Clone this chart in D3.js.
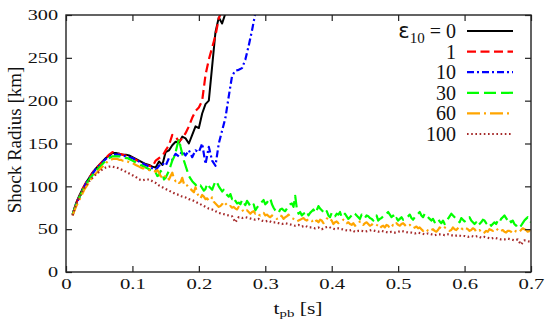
<!DOCTYPE html>
<html><head><meta charset="utf-8">
<script src="https://cdn.jsdelivr.net/npm/d3@7"></script>
<style>body{margin:0;background:#fff}svg{display:block}</style>
</head><body>
<svg id="chart" width="556" height="334"></svg>
<script>
// sampling of the simulation output: first time (s) and output interval (s) per series
const T0 = 0.01;
const sampleStep = [0.005, 0.005, 0.005, 0.0025, 0.0025, 0.005];
const xTicks = [0, 0.1, 0.2, 0.3, 0.4, 0.5, 0.6, 0.7];
const yTicks = [0, 50, 100, 150, 200, 250, 300];
const legendLabels = ["0", "1", "10", "30", "60", "100"];

const r_eps0 = [67,80,89,97,104,110,116,121,125,129,133,136,139,139,138,137,137,136,134,132,130,128,126,125,123,122,129,125,140,142,148,152,151,158,156,150,160,170,168,185,196,200,240,280,297,290,302];
const r_eps1 = [67,80,88,97,104,110,116,121,125,129,133,137,140,139,138,137,136,135,133,131,129,127,125,124,123,130,133,135,142,148,160,158,152,156,162,170,180,188,192,200,230,248,262,276,296,306];
const r_eps10 = [67,79,87,96,103,109,115,120,124,128,132,135,137,137,137,136,135,134,133,131,129,127,125,123,121,119,124,127,124,133,131,138,135,141,136,142,134,142,140,150,126,146,130,124,150,165,180,205,229,235,236,238,248,264,282,302];
const r_eps30 = [67,73,78,83,87,91,95,99,102,105,108,111,113,116,118,120,122,124,126,128,130,132,133,134,135,135,135,135,135,135,134,134,133,133,132,131,130,129,128,127,126,125,124,123,122,121,120,119,118,117,116,
  112,113,118,116,108,110,114,118,124,130,134,140,148,155,146,138,130,124,118,112,
  109,106,104,102,99,100,101,98,95,97,103,100,98,96,101,106,104,100,97,94,
  96,92,90,88,91,85,87,83,80,81,79,84,81,78,83,80,77,76,79,72,
  75,78,80,82,84,79,81,84,86,79,75,72,70,69,73,74,72,71,74,77,
  79,80,76,89,74,68,70,66,68,69,71,66,69,71,73,69,72,77,74,72,
  70,68,71,66,64,69,67,65,68,67,70,64,66,68,65,62,64,66,69,68,
  66,64,62,67,65,63,66,65,63,62,60,64,66,60,62,63,65,66,68,70,
  67,64,66,61,63,60,62,64,61,62,64,65,67,63,61,64,66,68,70,66,
  64,68,66,64,62,60,62,58,60,62,59,57,60,56,58,62,65,68,66,64,
  62,60,58,63,61,59,61,62,64,60,58,56,58,54,56,58,61,60,57,55,
  57,54,56,58,56,60,58,62,64,66,63,60,62,58,60,56,54,55,57,54,
  57,60,62,64,61,58];
const r_eps60 = [66,71,76,80,84,88,92,96,99,102,105,108,110,113,115,117,119,121,123,125,127,129,130,131,132,132,132,132,131,131,130,130,129,129,128,128,127,126,125,124,123,122,121,121,120,120,119,119,118,118,117,
  119,116,112,110,109,113,111,108,112,116,109,106,107,104,105,110,103,100,101,98,
  97,95,93,99,92,88,86,90,88,85,86,83,84,87,82,80,78,76,77,79,
  82,80,78,76,77,75,76,74,73,76,75,73,70,72,72,70,68,70,71,68,
  69,67,66,68,69,66,67,65,64,66,65,64,62,63,66,65,62,64,65,67,
  64,63,62,61,59,60,61,62,63,61,60,62,61,60,57,59,60,58,61,60,
  57,59,62,64,62,60,56,58,59,57,58,59,61,60,57,58,56,55,57,54,
  55,56,59,58,55,57,58,56,54,55,57,56,55,54,51,53,54,52,55,54,
  51,53,55,54,57,55,54,56,57,55,53,54,55,53,51,52,53,51,52,50,
  48,50,50,48,47,49,50,48,47,49,52,51,50,52,51,50,48,49,52,50,
  49,51,53,51,50,52,51,50,48,49,51,50,47,48,49,47,45,46,48,47,
  50,49,48,50,51,49,47,48,49,47,46,48,48,47,45,46,48,47,47,49,
  51,50,49,47,48,46];
const r_eps100 = [66,79,87,95,101,106,110,114,117,120,122,123,123,122,121,119,117,115,113,111,108,107,108,108,106,104,101,99,97,95,93,91,90,88,87,85,84,82,80,78,76,74,73,71,69,68,67,66,65,58,64,63,64,63,62,61,62,60,59,60,58,58,57,56,57,56,55,54,55,53,54,52,52,51,52,50,52,53,51,50,51,50,49,48,49,47,48,48,47,48,49,48,47,48,47,46,47,46,47,48,47,46,46,45,46,45,44,45,44,43,44,44,43,44,43,42,43,42,42,41,42,41,42,40,41,40,39,40,39,38,38,39,38,37,38,32,37,36,35];

const seriesValues = [r_eps0, r_eps1, r_eps10, r_eps30, r_eps60, r_eps100];
const colors = ["#000000", "#ff0000", "#0000ff", "#00ff00", "#ffa500", "#a52a2a"];
const dashes = [null, "9,4.5", "7,3,2,3", "12,5", "13,4,2,4", "1.6,2.6"];

const W = 556, H = 334;
const m = {l: 66, r: 25, t: 15, b: 62};
const svg = d3.select("#chart");
const x = d3.scaleLinear().domain([0, 0.7]).range([m.l, W - m.r]);
const y = d3.scaleLinear().domain([0, 300]).range([H - m.b, m.t]);
const serif = "'Liberation Serif','Times New Roman',serif";

svg.append("defs").append("clipPath").attr("id", "clip")
  .append("rect").attr("x", m.l).attr("y", m.t)
  .attr("width", W - m.l - m.r).attr("height", H - m.t - m.b);

// lines
const g = svg.append("g").attr("clip-path", "url(#clip)");
seriesValues.forEach((vals, k) => {
  const line = d3.line().x((d, i) => x(T0 + i * sampleStep[k])).y(d => y(d));
  g.append("path").datum(vals)
    .attr("d", line)
    .attr("fill", "none")
    .attr("stroke", colors[k])
    .attr("stroke-width", k === 0 ? 2 : 2.2)
    .attr("stroke-linejoin", "round")
    .attr("stroke-dasharray", dashes[k]);
});

// axes
const axB = svg.append("g").attr("transform", `translate(0,${H - m.b})`)
  .call(d3.axisBottom(x).tickValues(xTicks).tickSize(-6).tickSizeOuter(0).tickPadding(6).tickFormat(d3.format("")));
const axL = svg.append("g").attr("transform", `translate(${m.l},0)`)
  .call(d3.axisLeft(y).tickValues(yTicks).tickSize(-6).tickSizeOuter(0).tickPadding(8));
const axT = svg.append("g").attr("transform", `translate(0,${m.t})`)
  .call(d3.axisTop(x).tickValues(xTicks).tickSize(-6).tickSizeOuter(0).tickFormat(""));
const axR = svg.append("g").attr("transform", `translate(${W - m.r},0)`)
  .call(d3.axisRight(y).tickValues(yTicks).tickSize(-6).tickSizeOuter(0).tickFormat(""));
[axB, axL, axT, axR].forEach(a => {
  a.select(".domain").remove();
  a.selectAll(".tick line").attr("stroke", "#222").attr("stroke-width", 1.2);
  a.selectAll("text").attr("font-family", serif).attr("fill", "#111");
});
axB.selectAll("text").attr("font-size", 15).attr("transform", "scale(1.38,1)");
axL.selectAll("text").attr("font-size", 15).attr("x", -8 / 1.35).attr("transform", "scale(1.35,1)");

svg.append("rect").attr("x", m.l).attr("y", m.t)
  .attr("width", W - m.l - m.r).attr("height", H - m.t - m.b)
  .attr("fill", "none").attr("stroke", "#222").attr("stroke-width", 1.4);

// axis titles
svg.append("text").attr("transform", "translate(21,140) rotate(-90)")
  .attr("text-anchor", "middle").attr("font-family", serif).attr("font-size", 19).attr("fill", "#111")
  .text("Shock Radius [km]");
const xt = svg.append("text").attr("transform", "translate(298,314) scale(1.35,1)")
  .attr("text-anchor", "middle").attr("font-family", serif).attr("font-size", 16).attr("fill", "#111");
xt.append("tspan").text("t");
xt.append("tspan").attr("font-size", 11).attr("dy", 3).text("pb");
xt.append("tspan").attr("dy", -3).text(" [s]");

// legend
const legY = d3.scaleLinear().domain([0, 5]).range([31, 134]);
legendLabels.forEach((lab, k) => {
  const yy = legY(k);
  const t = svg.append("text").attr("x", 456).attr("y", yy + 7)
    .attr("text-anchor", "end").attr("font-family", serif).attr("font-size", 20).attr("fill", "#111");
  if (k === 0) {
    t.append("tspan").attr("font-family", "'DejaVu Sans',sans-serif").attr("font-size", 21).text("ε");
    t.append("tspan").attr("font-size", 15).attr("dy", 5).text("10");
    t.append("tspan").attr("dy", -5).text(" = " + lab);
  } else {
    t.text(lab);
  }
  svg.append("line").attr("x1", 467).attr("x2", 513).attr("y1", yy).attr("y2", yy)
    .attr("stroke", colors[k]).attr("stroke-width", 2.2).attr("stroke-dasharray", dashes[k]);
});
</script>
</body></html>
